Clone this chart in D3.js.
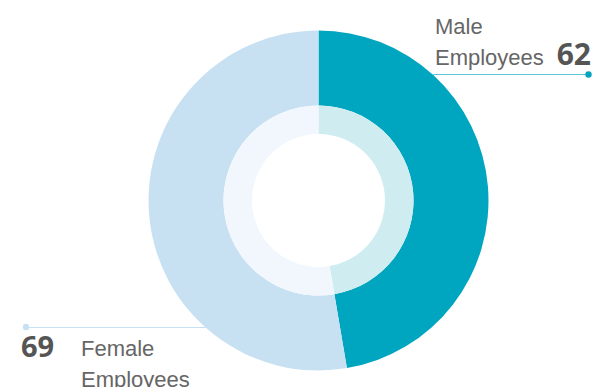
<!DOCTYPE html>
<html><head><meta charset="utf-8">
<script src="https://cdn.jsdelivr.net/npm/d3@7"></script>
<style>html,body{margin:0;padding:0;background:#fff;}svg{display:block;}</style>
</head><body>
<svg id="c" width="595" height="387"></svg>
<script>
const categories = ["Male Employees", "Female Employees"];
const values = [62, 69];
const labelLines = [["Male", "Employees"], ["Female", "Employees"]];
const colors = ["#00a6bf", "#c7e1f3"];
const innerColors = ["#cfecf1", "#f1f7fc"];
const lineColors = ["#5cc6d6", "#c7e1f3"];

const svg = d3.select("#c");
const cx = 318.5, cy = 200.5;
const g = svg.append("g").attr("transform", `translate(${cx},${cy})`);

const pie = d3.pie().sort(null).value(d => d)(values);
const arcOuter = d3.arc().innerRadius(95).outerRadius(170);
const arcInner = d3.arc().innerRadius(66.5).outerRadius(95);

g.selectAll("path.o").data(pie).join("path").attr("class","o")
  .attr("d", arcOuter).attr("fill", (d,i) => colors[i]);
g.selectAll("path.i").data(pie).join("path").attr("class","i")
  .attr("d", arcInner).attr("fill", (d,i) => innerColors[i]);

const font = "'Liberation Sans', Arial, sans-serif";
const numFont = "'Open Sans', sans-serif";

// male leader
svg.append("line").attr("x1", 432).attr("x2", 588).attr("y1", 74.5).attr("y2", 74.5)
  .attr("stroke", lineColors[0]).attr("stroke-width", 1.2);
svg.append("circle").attr("cx", 588.5).attr("cy", 74.5).attr("r", 3.2).attr("fill", colors[0]);
const mt = svg.append("text").attr("font-family", font).attr("font-size", 22).attr("fill", "#666");
mt.append("tspan").attr("x", 435).attr("y", 33.5).text(labelLines[0][0]);
mt.append("tspan").attr("x", 435).attr("y", 64.5).text(labelLines[0][1]);
svg.append("text").attr("x", 591).attr("y", 64.5).attr("text-anchor", "end")
  .attr("font-family", numFont).attr("font-weight", 700).attr("font-size", 30)
  .attr("fill", "#555").text(values[0]);

// female leader
svg.append("line").attr("x1", 26).attr("x2", 206).attr("y1", 327.5).attr("y2", 327.5)
  .attr("stroke", lineColors[1]).attr("stroke-width", 1.2);
svg.append("circle").attr("cx", 26).attr("cy", 327).attr("r", 3.2).attr("fill", colors[1]);
svg.append("text").attr("x", 21).attr("y", 356.5)
  .attr("font-family", numFont).attr("font-weight", 700).attr("font-size", 29)
  .attr("fill", "#555").text(values[1]);
const ft = svg.append("text").attr("font-family", font).attr("font-size", 22).attr("fill", "#666");
ft.append("tspan").attr("x", 81).attr("y", 356).text(labelLines[1][0]);
ft.append("tspan").attr("x", 81).attr("y", 387).text(labelLines[1][1]);
</script>
</body></html>
